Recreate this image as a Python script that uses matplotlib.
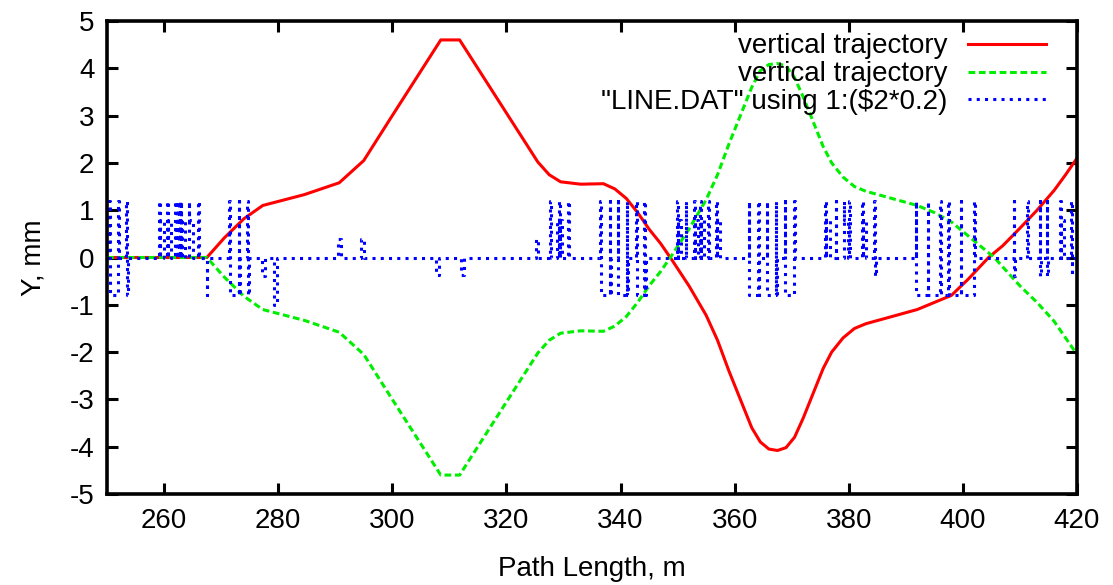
import numpy as np
import matplotlib; matplotlib.use('Agg')
import matplotlib.pyplot as plt

plt.rcParams['font.family'] = ['Liberation Sans', 'DejaVu Sans']
plt.rcParams['axes.unicode_minus'] = False

# red trajectory
red_x = [250, 267.5, 270.6, 274, 277.3, 284.6, 290.7, 295, 300, 308.5, 311.8,
         318.7, 325.5, 327.5, 329.5, 333, 337, 339, 341, 343, 345, 347, 349,
         352, 355, 357, 359, 361, 363, 364.5, 366, 367.5, 369, 370.5, 372, 374,
         375.5, 377, 379, 381, 383, 386, 389, 392, 395, 398, 401, 404.5, 407,
         410, 413, 416, 418, 420]
red_y = [0, 0, 0.42, 0.82, 1.1, 1.33, 1.58, 2.05, 3.0, 4.6, 4.6,
         3.3, 2.02, 1.75, 1.6, 1.55, 1.56, 1.45, 1.25, 0.95, 0.6, 0.3, -0.05,
         -0.6, -1.22, -1.75, -2.4, -3.0, -3.6, -3.9, -4.05, -4.08, -4.02, -3.8, -3.4, -2.8,
         -2.35, -2.0, -1.7, -1.5, -1.4, -1.3, -1.2, -1.1, -0.95, -0.8, -0.45, 0.0, 0.25,
         0.62, 1.0, 1.42, 1.75, 2.1]

# green trajectory
green_x = [250, 267.5, 270.6, 274, 277.3, 284.6, 290.7, 295, 300, 308.5, 311.8,
           318.7, 325.5, 327.5, 329.5, 333, 337, 339, 341, 343, 345, 347, 349,
           352, 355, 357, 359, 361, 363, 364.5, 366, 367.5, 369, 370.5, 372, 374,
           375.5, 377, 379, 381, 383, 386, 389, 392, 395, 398, 401, 405.5, 407,
           410, 413, 416, 418, 420]
green_y = [0, 0, -0.42, -0.82, -1.1, -1.33, -1.58, -2.05, -3.0, -4.6, -4.6,
           -3.3, -2.02, -1.75, -1.6, -1.55, -1.56, -1.45, -1.25, -0.95, -0.6, -0.3, 0.05,
           0.6, 1.22, 1.75, 2.4, 3.0, 3.6, 3.95, 4.08, 4.1, 4.05, 3.8, 3.4, 2.8,
           2.35, 2.0, 1.7, 1.5, 1.4, 1.3, 1.2, 1.1, 0.95, 0.75, 0.45, 0.0, -0.2,
           -0.6, -0.95, -1.35, -1.7, -2.05]

# lattice elements from LINE.DAT (start, length, scaled strength)
elem_s = [250.4, 250.55, 251.9, 253.4, 253.5,
          259.2, 259.35, 260.6, 260.75, 262.0, 262.3, 262.6, 262.9, 263.2, 264.3, 264.45, 265.9,
          267.5,
          271.4, 271.5, 273.1, 273.2, 274.6, 274.7,
          277.2, 279.3, 290.5, 294.5, 307.6, 312.0, 325.1,
          327.7, 328.8, 329.2, 329.35, 330.8,
          336.4, 336.5, 338.1, 338.2, 339.5, 339.6, 341.1, 341.2, 342.7, 342.8, 344.2, 344.3,
          349.9, 350.05, 351.4, 352.9, 353.05, 353.9, 354.05, 355.3, 356.7, 356.85,
          362.5, 362.6, 364.1, 364.2, 365.6, 365.7, 367.2, 367.3, 368.8, 368.9, 370.4,
          375.9, 376.05, 377.7, 379.1, 379.25, 380.0, 382.3, 382.45, 384.5, 384.65,
          391.7, 391.8, 393.8, 393.9, 396.0, 396.1, 397.4, 397.5, 399.6, 399.7, 402.0,
          408.9, 409.0, 411.2, 413.5, 413.6, 414.7, 414.8, 417.0, 417.15, 419.0, 419.1]
elem_len = [0.15, 1.35, 0.15, 0.1, 0.1,
            0.15, 0.6, 0.15, 0.5, 0.15, 0.15, 0.15, 0.15, 0.5, 0.15, 0.6, 0.15,
            0.1,
            0.1, 1.6, 0.1, 0.1, 0.1, 0.1,
            0.5, 0.5, 0.5, 0.5, 0.5, 0.5, 0.5,
            0.15, 0.4, 0.15, 0.4, 0.15,
            0.1, 1.6, 0.1, 0.1, 0.1, 1.5, 0.1, 0.1, 0.1, 1.4, 0.1, 0.1,
            0.15, 0.6, 0.15, 0.15, 0.5, 0.15, 0.5, 0.15, 0.15, 0.5,
            0.1, 1.5, 0.1, 0.1, 0.1, 1.5, 0.1, 0.1, 0.1, 1.5, 0.1,
            0.15, 0.6, 0.15, 0.15, 0.6, 0.15, 0.15, 0.6, 0.15, 0.1,
            0.1, 2.0, 0.1, 2.1, 0.1, 1.3, 0.1, 2.1, 0.1, 2.3, 0.1,
            0.1, 0.1, 0.15, 0.1, 0.1, 0.1, 0.1, 0.15, 0.5, 0.1, 0.1]
elem_h = [1.2, -0.8, 1.2, 1.2, -0.8,
          1.2, 0.8, 1.2, 0.8, 1.2, 1.2, 1.2, 1.2, 0.8, 1.2, 0.8, 1.2,
          -0.8,
          1.2, -0.8, 1.2, -0.8, 1.2, -0.8,
          -0.4, -1.0, 0.4, 0.4, -0.36, -0.36, 0.4,
          1.2, 0.8, 1.2, 0.8, 1.2,
          1.2, -0.8, 1.2, -0.8, 1.2, -0.8, 1.2, -0.8, 1.2, -0.8, 1.2, -0.8,
          1.2, 0.8, 1.2, 1.2, 0.8, 1.2, 0.8, 1.2, 1.2, 0.8,
          1.2, -0.8, 1.2, -0.8, 1.2, -0.8, 1.2, -0.8, 1.2, -0.8, 1.2,
          1.2, 0.8, 1.2, 1.2, 0.8, 1.2, 1.2, 0.8, 1.2, -0.4,
          1.2, -0.8, 1.2, -0.8, 1.2, -0.8, 1.2, -0.8, 1.2, -0.8, 1.2,
          1.2, -0.4, 1.2, 1.2, -0.4, 1.2, -0.4, 1.2, 0.8, 1.2, -0.4]

# build step profile
lat_x = [250.0]; lat_y = [0.0]
for s, L, h in zip(elem_s, elem_len, elem_h):
    lat_x += [s, s, s + L, s + L]
    lat_y += [0.0, h, h, 0.0]
lat_x.append(420.0); lat_y.append(0.0)

FS = 20
fig = plt.figure(figsize=(11.13, 5.85), dpi=100)
ax = fig.add_axes([107/1113, 1 - 494/585, 970/1113, 473/585])

ax.plot(red_x, red_y, color='#ff0000', lw=2.2, label='vertical trajectory')
ax.plot(green_x, green_y, color='#00ee00', lw=2.2, ls=(0, (2.2, 1.2)),
        label='vertical trajectory')
ax.plot(lat_x, lat_y, color='#0000ff', lw=2.2, ls=(0, (1, 1.7)),
        label='"LINE.DAT" using 1:($2*0.2)')

ax.set_xlim(250, 420)
ax.set_ylim(-5, 5)
ax.set_xticks(np.arange(260, 421, 20))
ax.set_yticks(np.arange(-5, 6, 1))
ax.tick_params(direction='in', length=8, width=2.2, top=True, right=True,
               labelsize=FS)
ax.tick_params(axis='x', pad=10)
ax.tick_params(axis='y', pad=9)
for sp in ax.spines.values():
    sp.set_linewidth(2.6)

ax.set_xlabel('Path Length, m', fontsize=FS, labelpad=16)
ax.set_ylabel('Y, mm', fontsize=FS, labelpad=17)

ax.legend(loc='upper right', bbox_to_anchor=(0.968, 0.974), frameon=False,
          markerfirst=False, fontsize=FS, handlelength=2.8, handletextpad=0.75,
          labelspacing=0.07, borderpad=0, borderaxespad=0)

fig.savefig('out.png', dpi=100)
